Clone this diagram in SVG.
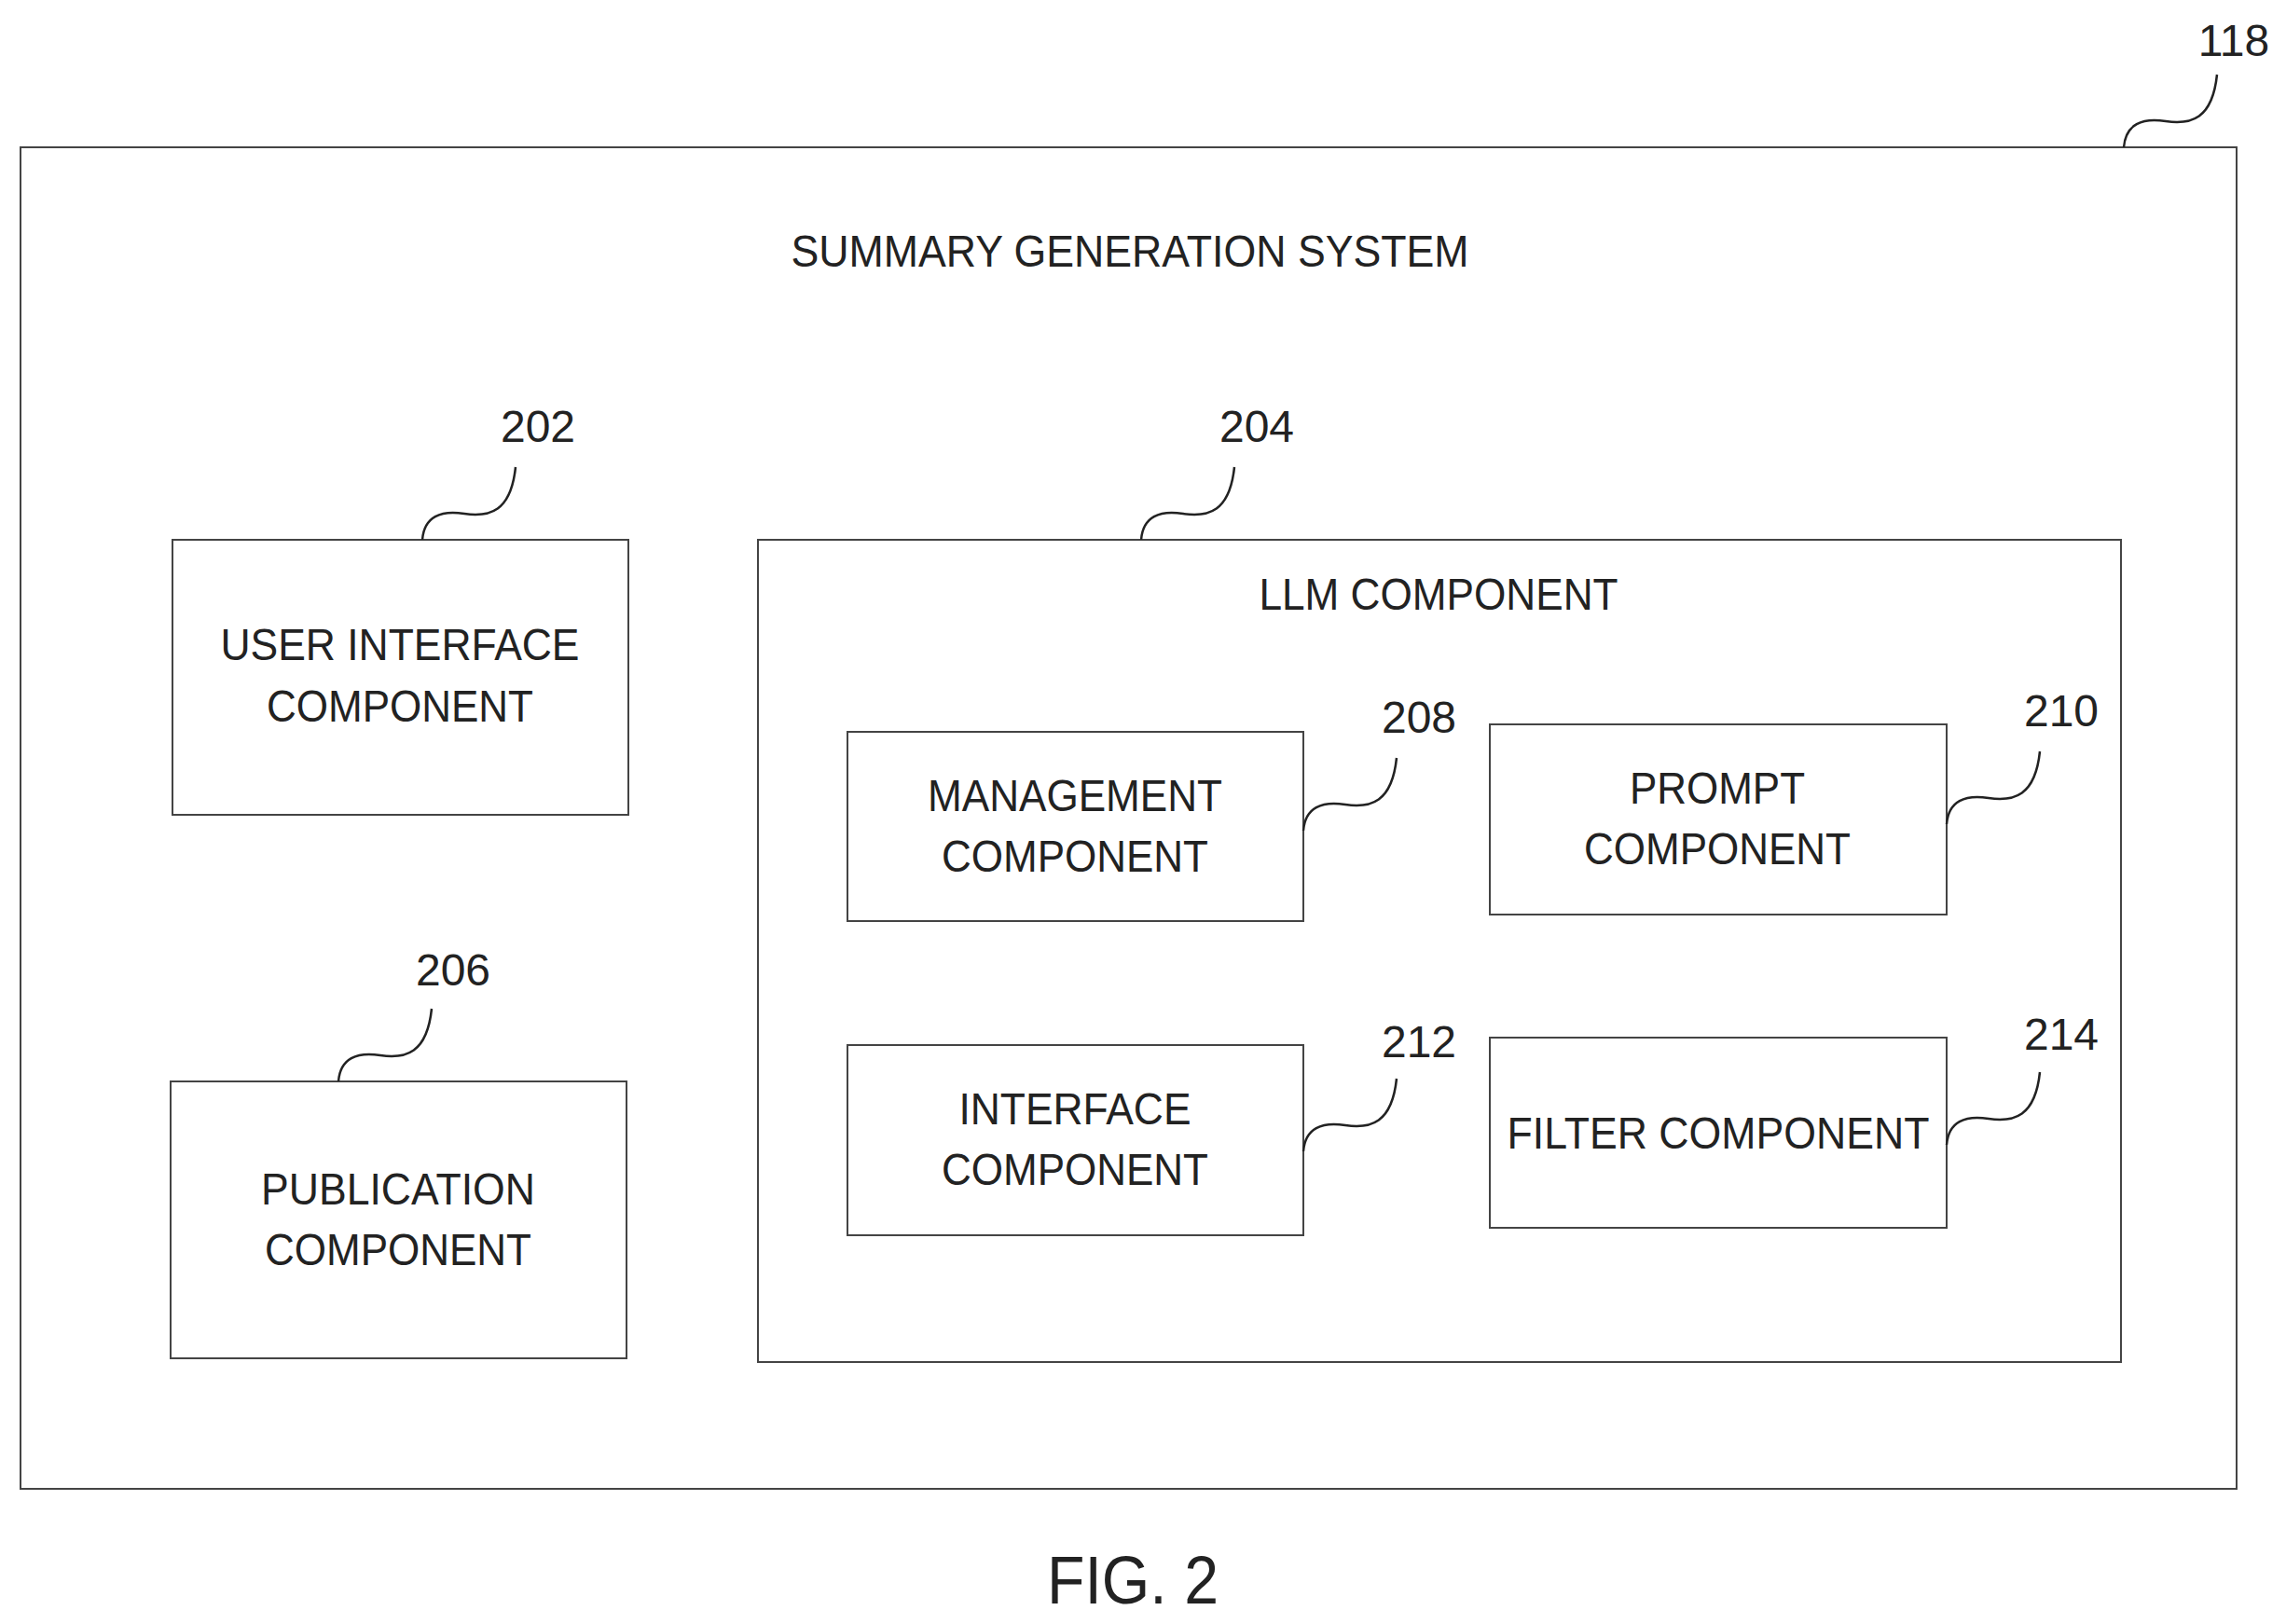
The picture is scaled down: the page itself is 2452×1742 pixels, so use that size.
<svg xmlns="http://www.w3.org/2000/svg" xmlns:xlink="http://www.w3.org/1999/xlink" width="2452" height="1742" viewBox="0 0 2452 1742">
<style>
.box{fill:none;stroke:#444;stroke-width:2}
.t{font-family:"Liberation Sans",Arial,sans-serif;font-size:48px;fill:#222;text-anchor:middle}
.n{font-family:"Liberation Sans",Arial,sans-serif;font-size:48px;fill:#222;text-anchor:middle}
.sq{fill:none;stroke:#222;stroke-width:2.5}
</style>
<defs>
<path id="sq" class="sq" d="M0,0 C2,-25 20,-32 45,-28 C72,-24 95,-30 100,-78"/>
</defs>
<rect width="2452" height="1742" fill="#fff"/>
<g id="system">
<rect class="box" x="22" y="158" width="2377" height="1439"/>
<text class="t" x="1212" y="286" textLength="727" lengthAdjust="spacingAndGlyphs">SUMMARY GENERATION SYSTEM</text>
<text class="n" x="2396" y="60">118</text>
</g>
<g id="ui">
<rect class="box" x="185" y="579" width="489" height="295"/>
<text class="t" x="429" y="708" textLength="385" lengthAdjust="spacingAndGlyphs">USER INTERFACE</text>
<text class="t" x="429" y="774" textLength="286" lengthAdjust="spacingAndGlyphs">COMPONENT</text>
<text class="n" x="577" y="474">202</text>
</g>
<g id="pub">
<rect class="box" x="183" y="1160" width="489" height="297"/>
<text class="t" x="427" y="1292" textLength="294" lengthAdjust="spacingAndGlyphs">PUBLICATION</text>
<text class="t" x="427" y="1357" textLength="286" lengthAdjust="spacingAndGlyphs">COMPONENT</text>
<text class="n" x="486" y="1057">206</text>
</g>
<g id="llm">
<rect class="box" x="813" y="579" width="1462" height="882"/>
<text class="t" x="1543" y="654" textLength="385" lengthAdjust="spacingAndGlyphs">LLM COMPONENT</text>
<text class="n" x="1348" y="474">204</text>
</g>
<g id="mgmt">
<rect class="box" x="909" y="785" width="489" height="203"/>
<text class="t" x="1153" y="870" textLength="316" lengthAdjust="spacingAndGlyphs">MANAGEMENT</text>
<text class="t" x="1153" y="935" textLength="286" lengthAdjust="spacingAndGlyphs">COMPONENT</text>
<text class="n" x="1522" y="786">208</text>
</g>
<g id="prompt">
<rect class="box" x="1598" y="777" width="490" height="204"/>
<text class="t" x="1842" y="862" textLength="188" lengthAdjust="spacingAndGlyphs">PROMPT</text>
<text class="t" x="1842" y="927" textLength="286" lengthAdjust="spacingAndGlyphs">COMPONENT</text>
<text class="n" x="2211" y="779">210</text>
</g>
<g id="iface">
<rect class="box" x="909" y="1121" width="489" height="204"/>
<text class="t" x="1153" y="1206" textLength="249" lengthAdjust="spacingAndGlyphs">INTERFACE</text>
<text class="t" x="1153" y="1271" textLength="286" lengthAdjust="spacingAndGlyphs">COMPONENT</text>
<text class="n" x="1522" y="1134">212</text>
</g>
<g id="filter">
<rect class="box" x="1598" y="1113" width="490" height="204"/>
<text class="t" x="1843" y="1232" textLength="453" lengthAdjust="spacingAndGlyphs">FILTER COMPONENT</text>
<text class="n" x="2211" y="1126">214</text>
</g>
<g id="connectors">
<use xlink:href="#sq" x="2278" y="158"/>
<use xlink:href="#sq" x="453" y="579"/>
<use xlink:href="#sq" x="363" y="1160"/>
<use xlink:href="#sq" x="1224" y="579"/>
<use xlink:href="#sq" x="1398" y="891"/>
<use xlink:href="#sq" x="2088" y="884"/>
<use xlink:href="#sq" x="1398" y="1235"/>
<use xlink:href="#sq" x="2088" y="1228"/>
</g>
<text class="t" x="1215" y="1720" style="font-size:72px" textLength="184" lengthAdjust="spacingAndGlyphs">FIG. 2</text>
</svg>
